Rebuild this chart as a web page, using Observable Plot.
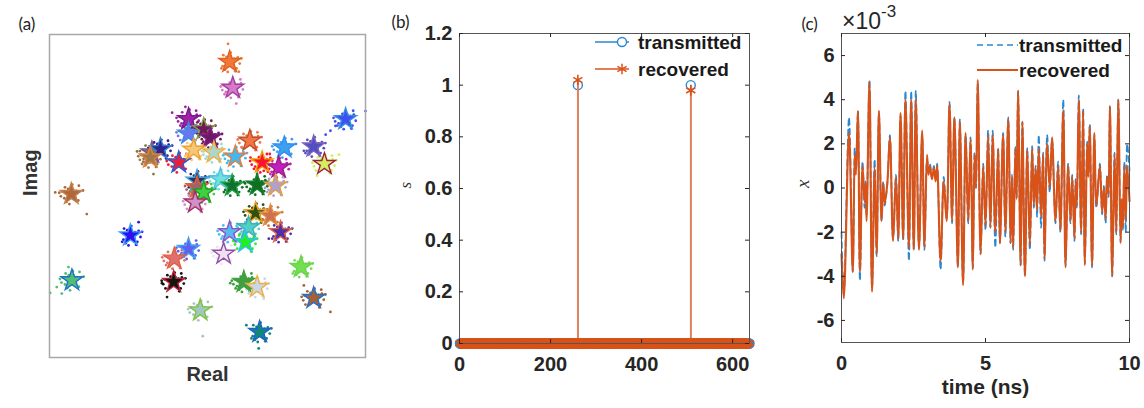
<!DOCTYPE html>
<html><head><meta charset="utf-8">
<script src="https://cdn.jsdelivr.net/npm/d3@7"></script>
<script src="https://cdn.jsdelivr.net/npm/@observablehq/plot@0.6"></script>
<style>
body{margin:0;background:#fff;}
#wrap{position:relative;width:1144px;height:408px;overflow:hidden;background:#fff;}
#wrap svg{position:absolute;top:0;}
</style></head><body><div id="wrap"></div>
<script>
// ---------- panel (a): constellation ----------
const starRe = [57.0,58.0,44.0,44.0,48.8,50.9,93.7,32.4,35.1,40.9,45.6,52.0,58.8,63.4,74.3,83.6,67.3,72.5,87.0,6.9,46.7,46.7,48.8,46.1,54.1,57.8,65.7,71.5,65.2,69.9,73.1,63.0,57.0,62.0,55.1,25.6,44.0,39.5,39.3,7.1,79.6,61.5,65.7,83.6,47.7,66.5,31.9];
const starIm = [91.5,83.5,73.8,69.3,70.7,68.1,73.8,63.5,64.5,60.4,64.3,63.5,62.2,67.1,65.0,65.3,60.4,58.8,59.9,50.6,54.7,52.7,51.1,48.0,55.2,53.2,53.5,53.2,44.7,43.9,38.8,40.3,38.8,35.7,32.1,37.8,33.6,30.6,23.4,23.9,28.0,23.4,21.8,18.4,14.6,7.9,61.9];
const starFill = ["#f07838","#d878c8","#a020a8","#6878f0","#701858","#701868","#4050f0","#7a7a40","#302090","#e82040","#f5c878","#a8d8d0","#40b8f0","#f07840","#40a0f0","#5050c0","#ff1030","#c020c0","#d0f060","#b06838","#303060","#a06070","#40d040","#d090c8","#70e0e0","#107030","#107020","#b0a0d0","#305010","#d07050","#5030a8","#50d0c8","#58b8f0","#20f020","#f0e0f0","#3010f0","#6060f0","#e07070","#101810","#50c070","#70e050","#40a040","#c8d8e8","#a86030","#a0c8c0","#108878","#a07848"];
const starStroke = ["#e06020","#a040a0","#7a1a8a","#3a8ae0","#80a040","#802080","#3090e0","#8050a0","#3080d0","#2060d0","#f0a030","#f0b040","#e08040","#c05030","#3090f0","#8060c0","#f0a000","#a02080","#a02040","#c08050","#40a0e0","#e06030","#20a020","#a03060","#50c0e0","#20a040","#108030","#e0a040","#f0a020","#e09040","#e06040","#40b0b0","#9050c0","#30c0f0","#9050a8","#30a0f0","#40a0f0","#e06040","#c02040","#2070d0","#70d050","#40a040","#f0b040","#2070d0","#80c040","#2060d0","#e08040"];
const scatterOffsets = [[-2.9,0.8],[2.6,1.4],[-1.5,-2.4],[2.2,-2.0],[0.3,2.9],[-3.3,-0.7],[3.2,-0.5],[-0.6,-3.1],[1.5,1.0],[-2.0,2.1],[2.4,2.6],[-2.6,-2.0],[1.0,-1.4],[-1.0,1.6],[3.7,1.1],[-3.8,0.4],[1.8,-2.9],[-2.2,-1.3],[-1.5,0.5],[1.2,-0.8],[0.5,1.5],[-0.8,-1.3]];
const strayRe = [56.5,59.9,59.1,88.9,90.5,100,87.4,11.8,1.8,0.2,2.3,3.9,6.0,88.9,80.5,37.2,35.6,48.5,66.2,62.3,28.2,91.6,84.7,80.5,38.8,43.0,32.9,27.7,64.6,65.7,68.8,67.8,63.6,67.8,57.2,69.4];
const strayIm = [97.1,88.5,78.6,70.2,71.7,76.3,69.0,44.4,51.1,20.0,21.8,19.8,28.0,14.1,22.3,18.7,23.0,6.6,2.8,10.0,41.9,62.8,56.3,64.0,75.8,77.6,56.8,63.8,65.0,56.8,63.0,57.8,61.9,18.2,23.0,36.8];
const strayStar = [0,0,1,6,6,6,6,19,19,39,39,39,39,43,43,38,38,44,45,45,35,18,18,15,2,2,7,7,16,16,16,16,16,42,41,30];

// ---------- panel (b): sparse vector ----------
const signalLength = 637;
const spikeIndex = [260, 508];
const transmittedSpike = [1.0, 1.0];
const recoveredSpike = [1.02, 0.98];
const xTicksB = [0, 200, 400, 600];
const yTicksB = [0, 0.2, 0.4, 0.6, 0.8, 1, 1.2];

// ---------- panel (c): time signal (x 1e-3) ----------
const timeNs = [0.00,0.08,0.26,0.39,0.46,0.50,0.57,0.64,0.73,0.80,0.83,0.87,0.97,1.06,1.15,1.22,1.30,1.39,1.45,1.50,1.59,1.68,1.79,1.89,1.97,2.05,2.14,2.22,2.34,2.42,2.51,2.58,2.69,2.80,2.88,2.97,3.02,3.07,3.14,3.21,3.27,3.32,3.44,3.55,3.65,3.75,3.84,3.92,4.04,4.11,4.22,4.31,4.40,4.48,4.56,4.62,4.67,4.73,4.83,4.92,5.00,5.09,5.17,5.25,5.34,5.44,5.50,5.61,5.69,5.79,5.87,5.92,5.96,6.04,6.08,6.13,6.22,6.28,6.37,6.45,6.54,6.62,6.68,6.74,6.79,6.85,6.93,7.00,7.05,7.14,7.23,7.31,7.43,7.52,7.60,7.70,7.78,7.87,7.95,8.01,8.09,8.13,8.17,8.24,8.32,8.39,8.45,8.53,8.57,8.62,8.70,8.78,8.85,8.97,9.05,9.11,9.17,9.22,9.27,9.32,9.40,9.48,9.54,9.61,9.69,9.73,9.77,9.82,9.87,9.92,10.00];
const recoveredX = [-3.0,-5.0,2.5,-3.8,1.5,0.6,3.5,-3.8,1.0,-0.6,0.2,-1.5,4.8,-4.7,0.9,-3.0,3.5,-1.5,0.2,-0.7,0.2,2.3,-2.4,0.5,-2.3,3.4,-2.3,4.0,-2.7,4.0,-2.8,4.0,-2.8,2.6,-2.7,1.5,0.6,1.0,0.4,0.9,0.3,1.0,-3.3,0.3,-1.5,3.8,-1.5,3.2,-3.6,3.0,-4.4,2.5,-1.5,2.2,-3.7,1.5,0.0,4.9,-3.0,1.0,-1.7,2.4,-1.8,2.4,-2.0,1.8,-2.5,2.4,-2.0,3.1,-2.5,0.5,-2.7,1.8,-0.5,4.4,-3.5,3.0,-4.0,1.7,-2.6,1.8,-0.8,0.9,-1.0,1.8,-1.3,1.5,-3.2,2.0,0.0,2.3,-1.5,1.0,-1.9,3.5,-3.6,1.0,-1.5,0.5,-2.3,0.3,-0.8,4.0,-2.0,3.5,-3.5,2.0,0.5,2.8,-3.5,2.5,-0.8,1.0,-1.1,0.0,-1.4,0.5,-0.3,3.7,-4.0,1.5,-2.0,4.0,-2.5,-0.5,-1.8,1.0,-1.5,1.0,-0.6];
const transmittedX = [-2.0,-4.8,3.2,-3.8,1.8,0.8,3.5,-4.2,1.2,-0.9,0.3,-1.2,4.9,-4.6,1.3,-3.1,3.4,-1.5,0.3,-0.8,0.2,2.4,-2.3,0.6,-2.4,3.3,-2.4,4.4,-3.3,4.4,-2.8,4.4,-2.7,2.4,-2.8,1.3,0.8,1.1,0.5,1.0,0.4,1.1,-3.7,0.5,-1.4,3.9,-1.6,3.2,-3.6,3.1,-4.3,2.4,-1.6,2.3,-3.6,1.6,0.0,4.8,-3.0,1.1,-1.9,2.6,-1.8,2.6,-2.7,1.8,-2.5,2.5,-2.2,3.2,-2.5,0.6,-2.8,1.9,-0.4,4.4,-3.5,3.0,-4.0,1.8,-2.8,1.9,-0.9,1.0,-1.3,2.4,-1.8,1.6,-3.3,2.4,-0.2,2.2,-1.6,1.2,-2.0,4.0,-3.5,1.1,-1.6,0.6,-2.4,0.4,-0.9,4.2,-2.1,3.6,-3.4,2.1,0.6,2.9,-3.6,2.4,-0.9,1.1,-1.2,0.1,-1.6,0.6,-0.4,3.7,-4.0,1.6,-2.1,4.0,-2.4,-0.6,-1.9,1.2,-2.0,2.0,0.8];
const xTicksC = [0, 5, 10];
const yTicksC = [-6, -4, -2, 0, 2, 4, 6];

// ---------- common ----------
const BLUE = "#2a88d2", ORANGE = "#d95319", INK = "#262626";
const FONT = '"Liberation Sans", Arial, Helvetica, sans-serif';
const wrap = document.getElementById("wrap");
function put(svg, left) { svg.style.left = left + "px"; wrap.appendChild(svg); }

// ---- (a)
const stars = starRe.map((re, i) => ({re, im: starIm[i], fill: starFill[i], stroke: starStroke[i]}));
const dots = stars.flatMap((s, i) => scatterOffsets.filter((_, j) => (i + j) % 5 !== 0)
  .map(([dx, dy]) => ({re: s.re + dx, im: s.im + dy, fill: s.fill})))
  .concat(strayRe.map((re, k) => ({re, im: strayIm[k], fill: starFill[strayStar[k]]})));

put(Plot.plot({
  width: 380, height: 408, marginLeft: 49, marginRight: 15, marginTop: 34, marginBottom: 51,
  style: {fontFamily: FONT, background: "transparent", overflow: "visible"},
  x: {domain: [0, 100], axis: null}, y: {domain: [0, 100], axis: null},
  color: {type: "identity"},
  marks: [
    Plot.dot(dots, {x: "re", y: "im", r: 1.4, fill: "fill", stroke: null}),
    Plot.dot(stars, {x: "re", y: "im", symbol: "star", r: 6.8, fill: "fill", stroke: "stroke", strokeWidth: 1.4}),
    Plot.frame({stroke: "#a8a8a8", strokeWidth: 1.5}),
    Plot.text(["Real"], {frameAnchor: "bottom", dy: 23, fontSize: 20, fontWeight: "bold", fill: "#333"}),
    Plot.text(["Imag"], {frameAnchor: "left", dx: -19, rotate: -90, fontSize: 20, fontWeight: "bold", fill: "#333"}),
    Plot.text(["(a)"], {frameAnchor: "top-left", dx: -31, dy: -17, fontSize: 17, fontWeight: "normal", fontFamily: "Lato, 'Open Sans', sans-serif", fill: "#222"})
  ]
}), 0);

// ---- (b)
const idx = d3.range(1, signalLength + 1);
const sTrans = idx.map(i => { const k = spikeIndex.indexOf(i); return {i, v: k < 0 ? 0 : transmittedSpike[k]}; });
const sRec = idx.map(i => { const k = spikeIndex.indexOf(i); return {i, v: k < 0 ? 0 : recoveredSpike[k]}; });
const pwB = 380 - 79 - 11, phB = 408 - 33 - 65;
put(Plot.plot({
  width: 380, height: 408, marginLeft: 79, marginRight: 11, marginTop: 33, marginBottom: 65,
  style: {fontFamily: FONT, fontSize: "20px", fontWeight: "bold", color: INK, background: "transparent", overflow: "visible"},
  x: {domain: [0, signalLength], label: null}, y: {domain: [0, 1.2], label: null},
  marks: [
    Plot.ruleX(sTrans.filter(d => d.v !== 0), {x: "i", y1: 0, y2: "v", stroke: BLUE, strokeWidth: 1.5}),
    Plot.dot(sTrans, {x: "i", y: "v", r: 4.5, stroke: BLUE, strokeWidth: 1.4, fill: "none"}),
    Plot.ruleX(sRec.filter(d => d.v !== 0), {x: "i", y1: 0, y2: "v", stroke: "#ee7d4f", strokeWidth: 1.8}),
    Plot.dot(sRec, {x: "i", y: "v", r: 5, symbol: "asterisk", stroke: ORANGE, strokeWidth: 1.6}),
    Plot.ruleY([0], {stroke: "#222", strokeWidth: 1}),
    Plot.frame({stroke: "#555", strokeWidth: 1}),
    Plot.tickY(yTicksB, {y: d => d, insetRight: pwB - 4, stroke: INK}),
    Plot.tickY(yTicksB, {y: d => d, insetLeft: pwB - 4, stroke: INK}),
    Plot.tickX(xTicksB, {x: d => d, insetTop: phB - 4, stroke: INK}),
    Plot.tickX(xTicksB, {x: d => d, insetBottom: phB - 4, stroke: INK}),
    Plot.axisY(yTicksB, {tickSize: 0, tickPadding: 7, tickFormat: d => String(d), label: null}),
    Plot.axisX(xTicksB, {tickSize: 0, tickPadding: 13, tickFormat: d => String(d), label: null}),
    Plot.text(["s"], {frameAnchor: "left", dx: -54, rotate: -90, fontSize: 17, fontStyle: "italic", fontWeight: "normal", fontFamily: '"Liberation Serif", "DejaVu Serif", serif', fill: "#333"}),
    Plot.text(["(b)"], {frameAnchor: "top-left", dx: -68, dy: -18, fontSize: 17, fontWeight: "normal", fontFamily: "Lato, 'Open Sans', sans-serif", fill: "#222"})
  ]
}), 380);

// ---- (c)
const cRec = timeNs.map((t, i) => ({t, v: recoveredX[i]}));
const cTrans = timeNs.map((t, i) => ({t, v: transmittedX[i]}));
const pwC = 374 - 71 - 15, phC = 408 - 33 - 66;
put(Plot.plot({
  width: 374, height: 408, marginLeft: 71, marginRight: 15, marginTop: 33, marginBottom: 66,
  style: {fontFamily: FONT, fontSize: "20px", fontWeight: "bold", color: INK, background: "transparent", overflow: "visible"},
  x: {domain: [0, 10], label: null}, y: {domain: [-7, 7], label: null},
  marks: [
    Plot.line(cTrans, {x: "t", y: "v", stroke: BLUE, strokeWidth: 1.7, strokeDasharray: "6,4", curve: "catmull-rom"}),
    Plot.line(cRec, {x: "t", y: "v", stroke: ORANGE, strokeWidth: 2.1, curve: "catmull-rom"}),
    Plot.frame({stroke: "#555", strokeWidth: 1}),
    Plot.tickY(yTicksC, {y: d => d, insetRight: pwC - 4, stroke: INK}),
    Plot.tickY(yTicksC, {y: d => d, insetLeft: pwC - 4, stroke: INK}),
    Plot.tickX(xTicksC, {x: d => d, insetTop: phC - 4, stroke: INK}),
    Plot.tickX(xTicksC, {x: d => d, insetBottom: phC - 4, stroke: INK}),
    Plot.axisY(yTicksC, {tickSize: 0, tickPadding: 7, tickFormat: d => String(d), label: null}),
    Plot.axisX(xTicksC, {tickSize: 0, tickPadding: 13, tickFormat: d => String(d), label: null}),
    Plot.text(["time (ns)"], {frameAnchor: "bottom", dy: 51, fontSize: 21, fontWeight: "bold", fill: INK}),
    Plot.text(["x"], {frameAnchor: "left", dx: -39, rotate: -90, fontSize: 19, fontStyle: "italic", fontWeight: "normal", fontFamily: '"Liberation Serif", "DejaVu Serif", serif', fill: "#333"}),
    Plot.text(["(c)"], {frameAnchor: "top-left", dx: -40, dy: -16, fontSize: 17, fontWeight: "normal", fontFamily: "Lato, 'Open Sans', sans-serif", fill: "#222"})
  ]
}), 770);

// ---- overlay: legends and exponent
const ns = "http://www.w3.org/2000/svg";
const ov = d3.create("svg").attr("xmlns", ns).attr("width", 1144).attr("height", 408)
  .style("left", "0px").style("pointer-events", "none");
const lg = ov.append("g").attr("font-family", FONT).attr("font-weight", "bold").attr("font-size", 19).attr("fill", "#1a1a1a");
// (b) legend
lg.append("line").attr("x1", 595).attr("x2", 629).attr("y1", 42).attr("y2", 42).attr("stroke", BLUE).attr("stroke-width", 1.5);
lg.append("circle").attr("cx", 622).attr("cy", 42).attr("r", 4.5).attr("fill", "white").attr("stroke", BLUE).attr("stroke-width", 1.4);
lg.append("text").attr("x", 638).attr("y", 42).attr("dy", "0.36em").text("transmitted");
lg.append("line").attr("x1", 595).attr("x2", 629).attr("y1", 69).attr("y2", 69).attr("stroke", ORANGE).attr("stroke-width", 1.5);
lg.append("path").attr("d", d3.symbol(d3.symbolAsterisk, Math.PI * 5 * 5)()).attr("transform", "translate(622,69)").attr("stroke", ORANGE).attr("stroke-width", 1.5).attr("fill", "none");
lg.append("text").attr("x", 638).attr("y", 69).attr("dy", "0.36em").text("recovered");
// (c) legend
lg.append("line").attr("x1", 977).attr("x2", 1018).attr("y1", 45).attr("y2", 45).attr("stroke", BLUE).attr("stroke-width", 1.7).attr("stroke-dasharray", "6,4");
lg.append("text").attr("x", 1019).attr("y", 45).attr("dy", "0.36em").text("transmitted");
lg.append("line").attr("x1", 977).attr("x2", 1018).attr("y1", 70).attr("y2", 70).attr("stroke", ORANGE).attr("stroke-width", 2.1);
lg.append("text").attr("x", 1019).attr("y", 70).attr("dy", "0.36em").text("recovered");
// exponent
const ex = ov.append("text").attr("x", 842).attr("y", 29).attr("font-family", FONT).attr("font-size", 23).attr("fill", INK);
ex.append("tspan").text("\u00d710");
ex.append("tspan").attr("dy", -12).attr("font-size", 17).text("-3");
wrap.appendChild(ov.node());
</script></body></html>
